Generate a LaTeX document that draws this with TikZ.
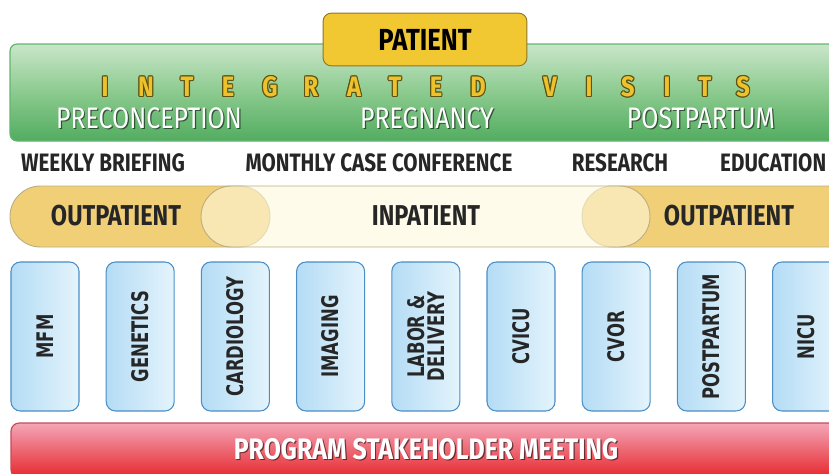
\documentclass[tikz,border=0pt]{standalone}
\usepackage{fontspec}
\usetikzlibrary{calc}
\newfontfamily\headfont[FakeStretch=0.84]{Fira Sans}
\newfontfamily\rowfont[FakeStretch=0.82]{Fira Sans}
\newfontfamily\boxfont[FakeStretch=0.72]{DejaVu Sans}
\definecolor{bandtop}{HTML}{C9E6C9}
\definecolor{bandmid}{HTML}{8BCA8E}
\definecolor{bandbot}{HTML}{52AC60}
\definecolor{bandline}{HTML}{62B56F}
\definecolor{patfill}{HTML}{F2C832}
\definecolor{patline}{HTML}{8C7628}
\definecolor{lettfill}{HTML}{EEC22C}
\definecolor{lettline}{HTML}{5E5212}
\definecolor{outfill}{HTML}{F1CF76}
\definecolor{infill}{HTML}{FEF8DC}
\definecolor{capline}{HTML}{BDAE82}
\definecolor{unitleft}{HTML}{B4DCF5}
\definecolor{unitright}{HTML}{E4F4FC}
\definecolor{unitline}{HTML}{4A8EC6}
\definecolor{meettop}{HTML}{F4A6B8}
\definecolor{meetbot}{HTML}{E6262B}
\definecolor{meetline}{HTML}{C44C58}
\definecolor{darktext}{HTML}{262626}
\tikzset{
  shadowtext/.style={text=black,opacity=0.55,inner sep=0pt},
  whitetext/.style={text=white,inner sep=0pt},
  unitbox/.style={draw=unitline,line width=0.9pt,rounded corners=8pt,
                  left color=unitleft,right color=unitright},
  unitlabel/.style={rotate=90,inner sep=0pt,text=darktext,align=center,
                    font=\boxfont\bfseries\fontsize{19.5}{17.5}\selectfont},
  caplabel/.style={inner sep=0pt,text=darktext,
                   font=\rowfont\bfseries\fontsize{24.5}{26}\selectfont},
  rowlabel/.style={inner sep=0pt,text=darktext,
                   font=\rowfont\bfseries\fontsize{21.5}{22}\selectfont},
  phaselabel/.style={font=\headfont\fontsize{25.3}{27}\selectfont},
  lettlabel/.style={inner sep=0pt,font=\headfont\bfseries\fontsize{24}{26}\selectfont}
}
\begin{document}
\begin{tikzpicture}[x=0.03cm,y=-0.03cm]
  \useasboundingbox (0,0) rectangle (829,474);
  \clip (0,0) rectangle (829,474);

  % green band
  \draw[draw=bandline,line width=1pt,rounded corners=6pt,
        top color=bandtop,bottom color=bandbot,middle color=bandmid]
        (10,44) rectangle (880,141);
  \node[draw=patline,line width=0.8pt,rounded corners=7pt,fill=patfill,
        minimum width=174pt,minimum height=45pt,inner sep=0pt,
        font=\headfont\bfseries\fontsize{26}{27}\selectfont] (patient) at (425,39.5) {PATIENT};

  % integrated visits
  \foreach \l/\x in {I/105,N/146,T/187,E/228,G/270,R/311,A/354,T/395,E/436,D/478,
                     V/550,I/589,S/628,I/667,T/705,S/743}
  {
    \foreach \a in {0,45,...,315}
      \node[lettlabel,text=lettline] at ($(\x,87)+(\a:1pt)$) {\l};
    \node[lettlabel,text=lettfill] (L-\x) at (\x,87) {\l};
  }

  \foreach \name/\x/\text in {pre/149/PRECONCEPTION, preg/427/PREGNANCY, post/701/POSTPARTUM}
  {
    \node[phaselabel,shadowtext] at ($(\x,118)+(1pt,-1pt)$) {\text};
    \node[phaselabel,whitetext] (\name) at (\x,118) {\text};
  }

  % meetings row
  \node[rowlabel] (weekly) at (103,163) {WEEKLY BRIEFING};
  \node[rowlabel] (monthly) at (379,163) {MONTHLY CASE CONFERENCE};
  \node[rowlabel] (research) at (620,163) {RESEARCH};
  \node[rowlabel,anchor=west] (education) at (720,163) {EDUCATION};

  % care settings
  \draw[draw=capline,line width=0.8pt,fill=outfill,rounded corners=26pt]
        (10,186) rectangle (270,247);
  \draw[draw=capline,line width=0.8pt,fill=outfill,rounded corners=26pt]
        (582,186) rectangle (900,247);
  \draw[draw=capline,line width=0.8pt,fill=infill,fill opacity=0.6,rounded corners=26pt]
        (201,186) rectangle (650,247);
  \node[caplabel] (outleft) at (116,216) {OUTPATIENT};
  \node[caplabel] (inpat) at (426,216) {INPATIENT};
  \node[caplabel] (outright) at (729,216) {OUTPATIENT};

  % units
  \foreach \i/\text in {0/MFM, 1/GENETICS, 2/CARDIOLOGY, 3/IMAGING,
                        4/{LABOR \&\\DELIVERY}, 5/CVICU, 6/CVOR, 7/POSTPARTUM, 8/NICU}
  {
    \draw[unitbox] ({11+95.2*\i},262) rectangle ({79+95.2*\i},411);
    \node[unitlabel] (U-\i) at ({45+95.2*\i},336.5) {\text};
  }

  % stakeholder meeting
  \draw[draw=meetline,line width=1pt,rounded corners=7pt,
        top color=meettop,bottom color=meetbot] (11,423) rectangle (880,478);
  \node[shadowtext,font=\headfont\bfseries\fontsize{25.3}{27}\selectfont]
        at ($(426,449)+(1pt,-1pt)$) {PROGRAM STAKEHOLDER MEETING};
  \node[whitetext,font=\headfont\bfseries\fontsize{25.3}{27}\selectfont]
        (meeting) at (426,449) {PROGRAM STAKEHOLDER MEETING};
\end{tikzpicture}
\end{document}
